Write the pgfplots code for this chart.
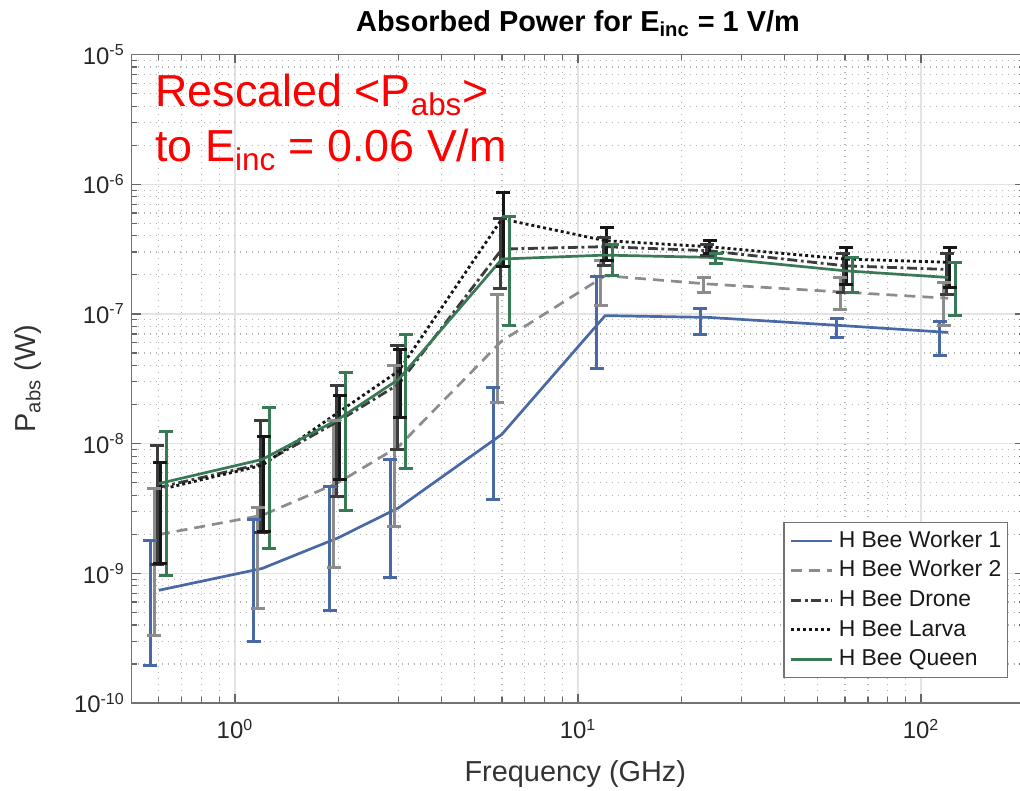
\documentclass[border=0pt]{standalone}
\usepackage{fontspec}
\setmainfont{Liberation Sans}
\usepackage{pgfplots}
\pgfplotsset{compat=1.18}
\definecolor{cW1}{RGB}{72,104,166}
\definecolor{cW2}{RGB}{140,140,140}
\definecolor{cDr}{RGB}{60,60,60}
\definecolor{cLa}{RGB}{22,22,22}
\definecolor{cQu}{RGB}{55,122,85}
\begin{document}
\begin{tikzpicture}
\useasboundingbox (0,0) rectangle (510bp,395.5bp);
\begin{axis}[
  at={(65.85bp,44bp)}, anchor=south west,
  scale only axis, width=446.3bp, height=324.25bp,
  xmode=log, ymode=log,
  xmin=0.5, xmax=200, ymin=1e-10, ymax=1e-5,
  xtick={1,10,100},
  xticklabels={10\textsuperscript{0},10\textsuperscript{1},10\textsuperscript{2}},
  ytick={1e-10,1e-9,1e-8,1e-7,1e-6,1e-5},
  yticklabels={10\textsuperscript{-10},10\textsuperscript{-9},10\textsuperscript{-8},10\textsuperscript{-7},10\textsuperscript{-6},10\textsuperscript{-5}},
  minor xtick={0.5,0.6,0.7,0.8,0.9,2,3,4,5,6,7,8,9,20,30,40,50,60,70,80,90,200},
  minor ytick={2e-10,3e-10,4e-10,5e-10,6e-10,7e-10,8e-10,9e-10,
               2e-9,3e-9,4e-9,5e-9,6e-9,7e-9,8e-9,9e-9,
               2e-8,3e-8,4e-8,5e-8,6e-8,7e-8,8e-8,9e-8,
               2e-7,3e-7,4e-7,5e-7,6e-7,7e-7,8e-7,9e-7,
               2e-6,3e-6,4e-6,5e-6,6e-6,7e-6,8e-6,9e-6},
  xmajorgrids=true, ymajorgrids=true, xminorgrids=true, yminorgrids=true,
  major grid style={gray!22, line width=0.6bp},
  minor grid style={gray!60, dash pattern=on 0.5bp off 2.5bp, line width=0.6bp},
  axis line style={black!55, line width=0.8bp},
  major tick length=4.5bp, minor tick length=2.8bp,
  tick style={black!60, line width=0.6bp},
  tick label style={font=\fontsize{12}{14}\selectfont, text=black!85},
  xticklabel style={yshift=-4.5bp},
  title={Absorbed Power for E\textsubscript{inc} = 1 V/m},
  title style={font=\fontsize{14.5}{17}\selectfont\bfseries, at={(axis description cs:0.5,1)}, anchor=base, yshift=5.5bp},
  xlabel={Frequency (GHz)},
  xlabel style={font=\fontsize{14.5}{17}\selectfont, at={(axis description cs:0.497,-0.11)}, anchor=center, text=black!80},
  ylabel={P\textsubscript{abs} (W)},
  ylabel style={font=\fontsize{14.5}{17}\selectfont, at={(axis description cs:-0.116,0.5)}, anchor=center, text=black!80},
  legend cell align=left,
  legend image code/.code={\draw[#1] (0bp,0bp) -- (20.5bp,0bp);},
  legend style={at={(axis description cs:0.9817,0.2791)}, anchor=north east,
     draw=black!55, line width=0.6bp, fill=white,
     font=\fontsize{11.5}{13}\selectfont, text=black!90,
     inner xsep=3bp, inner ysep=4bp, row sep=4.5bp,
     nodes={inner sep=0pt, text height=8.3bp, text depth=2bp},
     /tikz/every odd column/.append style={column sep=2.5bp}},
  errbar/.style={line width=1.5bp, solid, mark=-, mark size=3.5bp, mark options={solid, line width=1.5bp}, unbounded coords=jump, forget plot},
]
% Worker 1
\addplot[cW1, line width=1.35bp] coordinates {(0.6,7.4e-10) (1.2,1.09e-9) (2,1.88e-9) (3,3.2e-9) (6,1.18e-8) (12,9.7e-8) (24,9.4e-8) (60,8.1e-8) (120,7.2e-8)};
\addlegendentry{H Bee Worker 1}
\addplot[errbar, cW1] coordinates {
 (0.567,1.94e-10) (0.567,1.79e-9) (0.567,nan)
 (1.134,2.98e-10) (1.134,2.6e-9) (1.134,nan)
 (1.89,5.2e-10) (1.89,4.7e-9) (1.89,nan)
 (2.835,9.3e-10) (2.835,7.55e-9) (2.835,nan)
 (5.67,3.7e-9) (5.67,2.7e-8) (5.67,nan)
 (11.34,3.8e-8) (11.34,1.95e-7) (11.34,nan)
 (22.68,7.0e-8) (22.68,1.1e-7) (22.68,nan)
 (56.7,6.6e-8) (56.7,9.2e-8) (56.7,nan)
 (113.4,4.75e-8) (113.4,8.7e-8)};
% Worker 2
\addplot[cW2, line width=1.35bp, dash pattern=on 5.5bp off 3.5bp] coordinates {(0.6,1.99e-9) (1.2,2.8e-9) (2,5.0e-9) (3,9.5e-9) (6,6.2e-8) (12,1.97e-7) (24,1.7e-7) (60,1.47e-7) (120,1.32e-7)};
\addlegendentry{H Bee Worker 2}
\addplot[errbar, cW2] coordinates {
 (0.582,3.3e-10) (0.582,4.48e-9) (0.582,nan)
 (1.164,5.4e-10) (1.164,3.2e-9) (1.164,nan)
 (1.94,1.1e-9) (1.94,1.5e-8) (1.94,nan)
 (2.91,2.3e-9) (2.91,4.0e-8) (2.91,nan)
 (5.82,2.07e-8) (5.82,1.4e-7) (5.82,nan)
 (11.64,1.17e-7) (11.64,2.6e-7) (11.64,nan)
 (23.28,1.45e-7) (23.28,1.91e-7) (23.28,nan)
 (58.2,1.08e-7) (58.2,1.9e-7) (58.2,nan)
 (116.4,8.1e-8) (116.4,1.75e-7)};
% Drone
\addplot[cDr, line width=1.4bp, dash pattern=on 5bp off 1.8bp on 1.4bp off 1.8bp] coordinates {(0.6,4.6e-9) (1.2,7.0e-9) (2,1.49e-8) (3,2.87e-8) (6,3.16e-7) (12,3.3e-7) (24,3.07e-7) (60,2.35e-7) (120,2.2e-7)};
\addlegendentry{H Bee Drone}
\addplot[errbar, cDr] coordinates {
 (0.594,1.16e-9) (0.594,9.7e-9) (0.594,nan)
 (1.188,2.06e-9) (1.188,1.52e-8) (1.188,nan)
 (1.98,3.94e-9) (1.98,2.8e-8) (1.98,nan)
 (2.97,9.0e-9) (2.97,5.67e-8) (2.97,nan)
 (5.94,1.58e-7) (5.94,5.4e-7) (5.94,nan)
 (11.88,2.35e-7) (11.88,3.9e-7) (11.88,nan)
 (23.76,2.8e-7) (23.76,3.4e-7) (23.76,nan)
 (59.4,1.47e-7) (59.4,2.9e-7) (59.4,nan)
 (118.8,1.4e-7) (118.8,2.9e-7)};
% Larva
\addplot[cLa, line width=1.4bp, dash pattern=on 1.5bp off 1.5bp] coordinates {(0.6,4.4e-9) (1.2,6.8e-9) (2,1.74e-8) (3,3.63e-8) (6,5.4e-7) (12,3.67e-7) (24,3.3e-7) (60,2.65e-7) (120,2.5e-7)};
\addlegendentry{H Bee Larva}
\addplot[errbar, cLa] coordinates {
 (0.606,1.2e-9) (0.606,7.2e-9) (0.606,nan)
 (1.212,2.1e-9) (1.212,1.14e-8) (1.212,nan)
 (2.02,5.3e-9) (2.02,2.33e-8) (2.02,nan)
 (3.03,1.58e-8) (3.03,5.3e-8) (3.03,nan)
 (6.06,2.3e-7) (6.06,8.6e-7) (6.06,nan)
 (12.12,2.6e-7) (12.12,4.66e-7) (12.12,nan)
 (24.24,2.9e-7) (24.24,3.67e-7) (24.24,nan)
 (60.6,1.7e-7) (60.6,3.27e-7) (60.6,nan)
 (121.2,1.6e-7) (121.2,3.27e-7)};
% Queen
\addplot[cQu, line width=1.35bp] coordinates {(0.6,4.92e-9) (1.2,7.55e-9) (2,1.54e-8) (3,3.13e-8) (6,2.65e-7) (12,2.84e-7) (24,2.73e-7) (60,2.15e-7) (120,1.91e-7)};
\addlegendentry{H Bee Queen}
\addplot[errbar, cQu] coordinates {
 (0.63,9.6e-10) (0.63,1.24e-8) (0.63,nan)
 (1.26,1.55e-9) (1.26,1.9e-8) (1.26,nan)
 (2.1,3.06e-9) (2.1,3.53e-8) (2.1,nan)
 (3.15,6.4e-9) (3.15,6.98e-8) (3.15,nan)
 (6.3,8.2e-8) (6.3,5.66e-7) (6.3,nan)
 (12.6,1.97e-7) (12.6,3.4e-7) (12.6,nan)
 (25.2,2.43e-7) (25.2,2.9e-7) (25.2,nan)
 (63,1.45e-7) (63,2.73e-7) (63,nan)
 (126,9.8e-8) (126,2.5e-7)};
\end{axis}
\node[anchor=base west, text=red, font=\fontsize{22.5}{27}\selectfont, inner sep=0pt] at (77.5bp,342bp) {Rescaled <P\textsubscript{abs}>};
\node[anchor=base west, text=red, font=\fontsize{22.5}{27}\selectfont, inner sep=0pt] at (77.5bp,314.5bp) {to E\textsubscript{inc} = 0.06 V/m};
\end{tikzpicture}
\end{document}
